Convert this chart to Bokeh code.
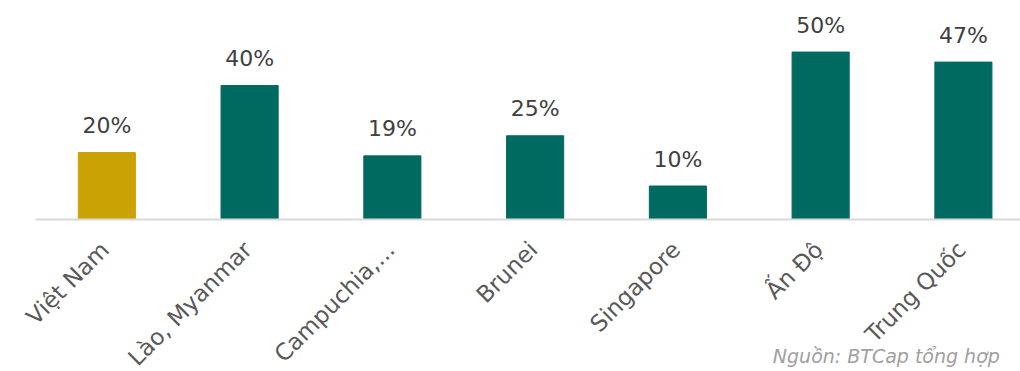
import math
from bokeh.plotting import figure
from bokeh.models import Range1d, Label, ColumnDataSource
from bokeh.core.properties import value
from bokeh.embed import file_html
from bokeh.resources import INLINE

categories = ["Việt Nam", "Lào, Myanmar", "Campuchia,...", "Brunei", "Singapore", "Ấn Độ", "Trung Quốc"]
values = [20, 40, 19, 25, 10, 50, 47]
labels = ["20%", "40%", "19%", "25%", "10%", "50%", "47%"]
highlight = "Việt Nam"
source_note = "Nguồn: BTCap tổng hợp"

GOLD = "#CBA203"
TEAL = "#016A60"
FONT = "DejaVu Sans"

xs = list(range(len(categories)))
colors = [GOLD if c == highlight else TEAL for c in categories]
src = ColumnDataSource(dict(x=xs, top=values, color=colors, label=labels, cat=categories,
                            zero=[0] * len(xs)))

# frame covers the whole canvas; category band edges at -0.5 .. n-0.5
x_start, x_end = -0.745, 6.40
y_start, y_end = -45.4, 65.4
band_left = xs[0] - 0.5

p = figure(width=1020, height=371, output_backend="svg", toolbar_location=None,
           x_range=Range1d(x_start, x_end), y_range=Range1d(y_start, y_end),
           min_border_left=0, min_border_right=0, min_border_top=0, min_border_bottom=0)
p.outline_line_color = None
p.background_fill_color = "white"
p.border_fill_color = "white"
p.axis.visible = False
p.grid.visible = False

p.vbar(x="x", top="top", bottom=0, width=0.4, color="color", source=src)
# category axis baseline
p.segment(x0=[band_left], x1=[x_end], y0=[0], y1=[0], line_color="#d9d9d9", line_width=2)

p.text(x="x", y="top", text="label", source=src, text_align="center", text_baseline="alphabetic",
       y_offset=-27, text_font=value(FONT), text_font_size="22px", text_color="#404040")

# rotated category labels
p.text(x="x", y="zero", text="cat", source=src, angle=math.pi / 4,
       text_align="right", text_baseline="top", x_offset=-11, y_offset=17,
       text_font=value(FONT), text_font_size="23px", text_color="#595959")

note = Label(x=4.665, y=-37.6, text=source_note, text_baseline="top", text_align="left",
             text_font=FONT, text_font_style="italic", text_font_size="19px", text_color="#a0a0a0")
p.add_layout(note)

open("out.html", "w").write(file_html(p, INLINE))
